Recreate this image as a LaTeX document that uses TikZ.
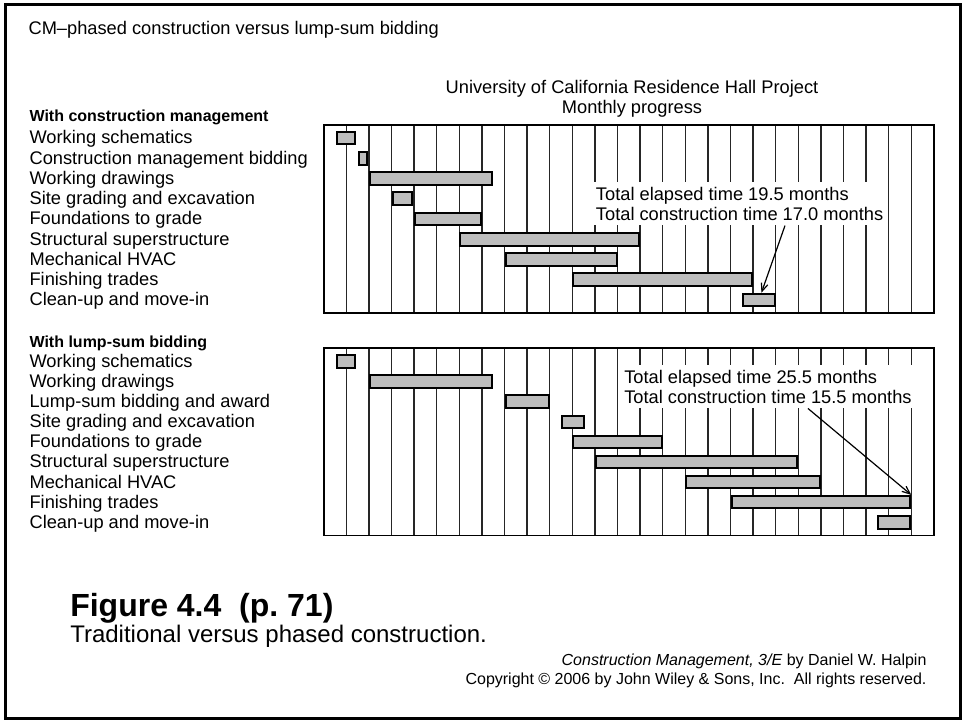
\documentclass[tikz,border=0pt]{standalone}
\usepackage{fontspec}
\setmainfont{Liberation Sans}
\usetikzlibrary{positioning,arrows.meta}

\newcommand{\chartfont}{\fontsize{13.7}{15}\selectfont}

\begin{document}
\begin{tikzpicture}[x=0.75pt, y=-0.75pt, node distance=15pt, on grid,
    lbl/.style={anchor=base west, inner sep=0pt, font=\chartfont},
    head/.style={anchor=base west, inner sep=0pt, font=\fontsize{12}{14}\selectfont\bfseries},
    bar/.style={draw=black, line width=1.5pt, fill=gray!52, inner sep=0pt, minimum height=9.4pt},
    gridline/.style={line width=1pt, black!85},
    chartbox/.style={line width=1.4pt},
    note/.style={fill=white, align=left, inner sep=3.75pt, font=\chartfont},
    >={Straight Barb[length=6pt,width=5pt]}]
    \useasboundingbox (0,0) rectangle (964,723);
    \draw[line width=2.25pt] (5.5,5) rectangle (960.5,718.5);

    \node[lbl] (chart) at (28.3,35) {CM--phased construction versus lump-sum bidding};
    \node[font=\chartfont] (title) at (632,88.5) {University of California Residence Hall Project};
    \node[font=\chartfont, below=of title] (monthly) {Monthly progress};

    \node[head] (cmhead) at (29.3,121.7) {With construction management};
    \node[head] (lshead) at (29.3,347.7) {With lump-sum bidding};

    \foreach \txt [count=\i] in {Working schematics, Construction management bidding,
        Working drawings, Site grading and excavation, Foundations to grade,
        Structural superstructure, Mechanical HVAC, Finishing trades, Clean-up and move-in}
        \node[lbl] (cml\i) at (29.3,{144+20.25*(\i-1)}) {\txt};
    \foreach \txt [count=\i] in {Working schematics, Working drawings,
        Lump-sum bidding and award, Site grading and excavation, Foundations to grade,
        Structural superstructure, Mechanical HVAC, Finishing trades, Clean-up and move-in}
        \node[lbl] (lsl\i) at (29.3,{367.5+20.1*(\i-1)}) {\txt};

    \foreach \k in {0,...,25}
        \draw[gridline] ({335+22.6*(\k+0.5)},125) -- ++(0,188)
                        ({335+22.6*(\k+0.5)},348) -- ++(0,187.5);
    \draw[chartbox] (323.7,125) rectangle (933.9,313);
    \draw[chartbox] (323.7,348) rectangle (933.9,535.5);

    \node[note, anchor=north west] (cmnote) at (590.7,181.7)
        {Total elapsed time 19.5 months\\Total construction time 17.0 months};
    \node[note, anchor=north west] (lsnote) at (619,364.5)
        {Total elapsed time 25.5 months\\Total construction time 15.5 months};

    \foreach \ts/\te [count=\i] in {0.05/0.95, 1/1.47, 1.5/7, 2.5/3.47, 3.5/6.5,
        5.5/13.5, 7.5/12.5, 10.5/18.5, 18/19.5}
        \node[bar, minimum width={(\te-\ts)*16.95pt-1.5pt}] (cm\i)
            at ({335+11.3*(\ts+\te)},{138+20.25*(\i-1)}) {};
    \foreach \ts/\te [count=\i] in {0.05/0.95, 1.5/7, 7.5/9.5, 10/11.05, 10.5/14.5,
        11.5/20.5, 15.5/21.5, 17.5/25.5, 24/25.5}
        \node[bar, minimum width={(\te-\ts)*16.95pt-1.5pt}] (ls\i)
            at ({335+11.3*(\ts+\te)},{361.5+20.1*(\i-1)}) {};

    \path[->, line width=0.9pt]
    ([xshift=34pt]cmnote.south) edge ([xshift=2pt]cm9.north)
    ([xshift=30pt]lsnote.south) edge (ls8.north east);

    \node[anchor=base west, inner sep=0pt, font=\fontsize{24}{28}\selectfont\bfseries]
        (fig) at (70,616.7) {Figure 4.4\ \ (p.~71)};
    \node[anchor=base west, inner sep=0pt, font=\fontsize{18}{22}\selectfont]
        (figcap) at (70,642.5) {Traditional versus phased construction.};
    \node[anchor=base east, inner sep=0pt, font=\fontsize{12}{14}\selectfont]
        (book) at (926.7,665.5) {\textit{Construction Management, 3/E} by Daniel W. Halpin};
    \node[anchor=base east, inner sep=0pt, font=\fontsize{12}{14}\selectfont]
        (copy) at (926.7,684.5) {Copyright © 2006 by John Wiley \& Sons, Inc.\ \ All rights reserved.};
\end{tikzpicture}
\end{document}
